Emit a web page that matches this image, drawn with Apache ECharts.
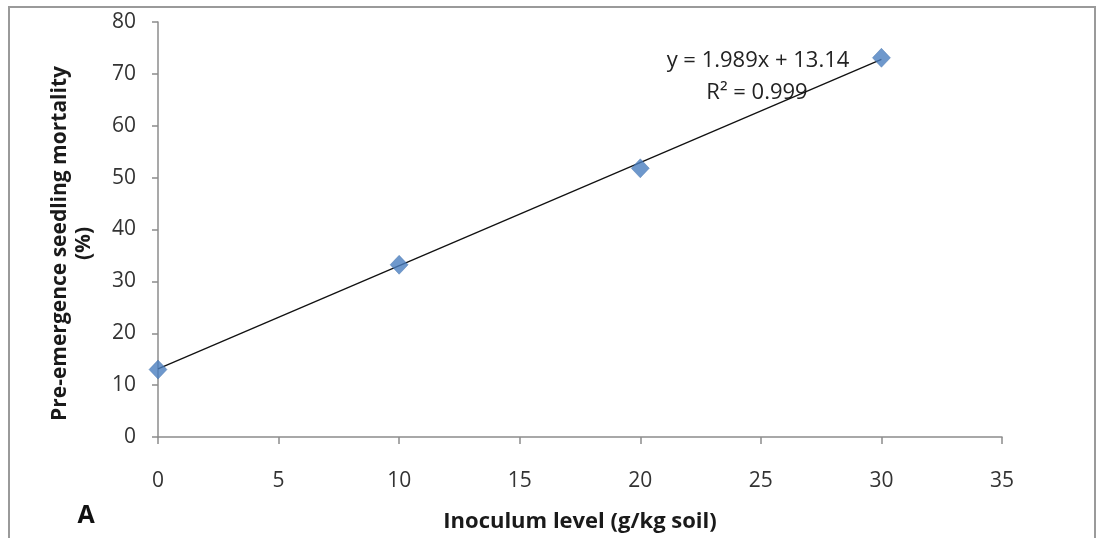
<!DOCTYPE html>
<html><head><meta charset="utf-8">
<script src="https://cdn.jsdelivr.net/npm/echarts@6/dist/echarts.min.js"></script>
<style>html,body{margin:0;padding:0;background:#fff}#c{width:1098px;height:538px}</style>
</head><body><div id="c"></div>
<script>
const inoculum = [0, 10, 20, 30];
const mortality = [13.0, 33.2, 51.8, 73.1];
const slope = 1.989, intercept = 13.14;
const trendX = [0, 30];
const eqText = 'y = 1.989x + 13.14';
const r2Text = 'R² = 0.999';

const font = '"Open Sans", "Noto Sans", sans-serif';
const chart = echarts.init(document.getElementById('c'), null, {renderer: 'canvas'});
chart.setOption({
  animation: false,
  backgroundColor: '#fff',
  grid: {left: 158, right: 96, top: 22, bottom: 99},
  xAxis: {
    type: 'value', min: 0, max: 35, interval: 5,
    name: 'Inoculum level (g/kg soil)', nameLocation: 'middle', nameGap: 74,
    nameTextStyle: {fontFamily: font, fontSize: 22, fontWeight: 'bold', color: '#1a1a1a'},
    axisLine: {show: true, lineStyle: {color: '#8c8c8c', width: 1.5}},
    axisTick: {show: true, length: 7, lineStyle: {color: '#8c8c8c', width: 1.5}},
    axisLabel: {margin: 34, fontFamily: font, fontSize: 21, color: '#333'},
    splitLine: {show: false}
  },
  yAxis: {
    type: 'value', min: 0, max: 80, interval: 10,
    name: 'Pre-emergence seedling mortality\n(%)', nameLocation: 'middle', nameGap: 62,
    nameTextStyle: {fontFamily: font, fontSize: 21, fontWeight: 'bold', color: '#1a1a1a', lineHeight: 24, padding: [0, 28, 0, 0]},
    axisLine: {show: true, lineStyle: {color: '#8c8c8c', width: 1.5}},
    axisTick: {show: true, length: 6, lineStyle: {color: '#8c8c8c', width: 1.5}},
    axisLabel: {margin: 22, fontFamily: font, fontSize: 21, color: '#333'},
    splitLine: {show: false}
  },
  series: [
    {
      type: 'line', data: trendX.map(x => [x, slope * x + intercept]),
      symbol: 'none', lineStyle: {color: '#111', width: 1.3}, z: 2
    },
    {
      type: 'scatter', data: inoculum.map((x, i) => [x, mortality[i]]),
      symbol: 'diamond', symbolSize: [18, 19],
      itemStyle: {color: '#4a7ebf', borderColor: '#3c6ca8', borderWidth: 0.5}, z: 3
    }
  ],
  graphic: [
    {type: 'rect', shape: {x: 9, y: 7, width: 1086, height: 560},
     style: {fill: 'none', stroke: '#9a9a9a', lineWidth: 2}, silent: true},
    {type: 'text', x: 758, y: 61, style: {text: eqText, font: '22px ' + font, fill: '#222', textAlign: 'center', textVerticalAlign: 'middle'}},
    {type: 'text', x: 757, y: 93, style: {text: r2Text, font: '22px ' + font, fill: '#222', textAlign: 'center', textVerticalAlign: 'middle'}},
    {type: 'text', x: 86, y: 516, style: {text: 'A', font: 'bold 25px ' + font, fill: '#111', textAlign: 'center', textVerticalAlign: 'middle'}}
  ]
});
</script></body></html>
